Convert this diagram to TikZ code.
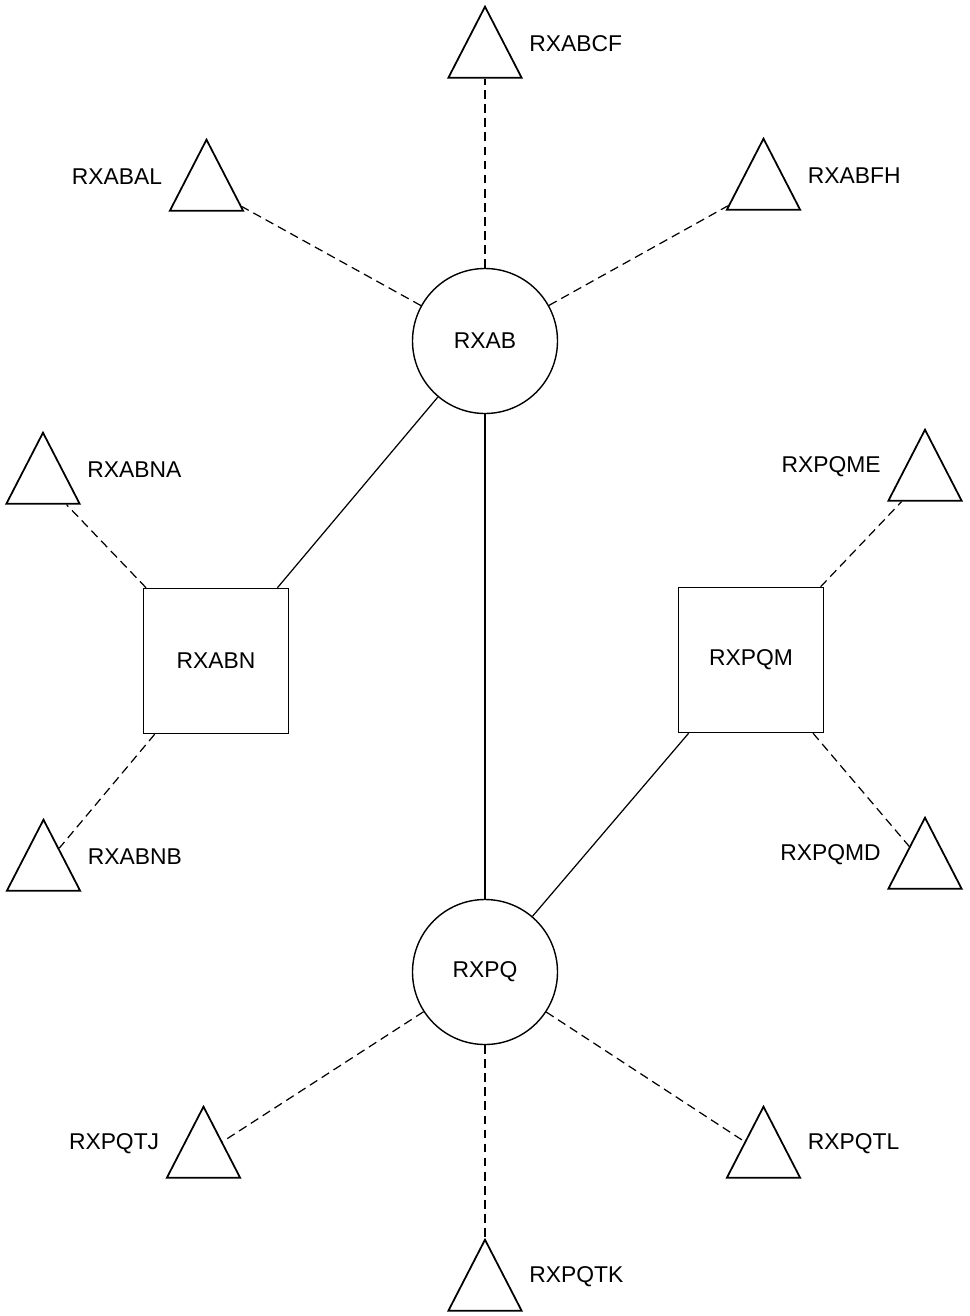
\documentclass[tikz,border=0pt]{standalone}
\usepackage{fontspec}
\setmainfont{Liberation Sans}
\usetikzlibrary{positioning,shapes.geometric}

\begin{document}
\begin{tikzpicture}[on grid,font=\fontsize{13}{15}\selectfont,
    hub/.style={draw,circle,minimum size=2.9cm,line width=0.8pt},
    sub/.style={draw,rectangle,minimum size=2.9cm,line width=0.8pt},
    term/.style={draw,regular polygon,regular polygon sides=3,inner sep=0pt,
      minimum size=1.69cm,yscale=1.12,line width=1pt},
    tag/.style={inner sep=0pt},
    trunk/.style={line width=0.7pt},
    spur/.style={line width=0.7pt,dash pattern=on 5pt off 3pt}]
  \useasboundingbox (0,0) rectangle (19.4,-26.32);
  % hubs and sub-hubs
  \node[hub] (rxab) at (9.7,-6.82) {RXAB};
  \node[hub] (rxpq) [below=12.62cm of rxab] {RXPQ};
  \node[sub] (rxabn) [below left=6.4cm and 5.38cm of rxab] {RXABN};
  \node[sub] (rxpqm) [below right=6.38cm and 5.32cm of rxab] {RXPQM};
  % terminals
  \node[term] (cf) [above=5.74cm of rxab] {};
  \node[term] (al) [above left=3.08cm and 5.57cm of rxab] {};
  \node[term] (fh) [above right=3.1cm and 5.57cm of rxab] {};
  \node[term] (na) [above left=3.62cm and 3.46cm of rxabn] {};
  \node[term] (nb) [below left=4.12cm and 3.45cm of rxabn] {};
  \node[term] (me) [above right=3.66cm and 3.48cm of rxpqm] {};
  \node[term] (md) [below right=4.1cm and 3.48cm of rxpqm] {};
  \node[term] (tj) [below left=3.64cm and 5.63cm of rxpq] {};
  \node[term] (tl) [below right=3.64cm and 5.57cm of rxpq] {};
  \node[term] (tk) [below=6.3cm of rxpq] {};
  % names
  \node[tag,above right=0.2cm and 0.88cm of cf,anchor=west] (cf-t) {RXABCF};
  \node[tag,above left=0.2cm and 0.88cm of al,anchor=east] (al-t) {RXABAL};
  \node[tag,above right=0.2cm and 0.88cm of fh,anchor=west] (fh-t) {RXABFH};
  \node[tag,above right=0.2cm and 0.88cm of na,anchor=west] (na-t) {RXABNA};
  \node[tag,above right=0.2cm and 0.88cm of nb,anchor=west] (nb-t) {RXABNB};
  \node[tag,above left=0.2cm and 0.88cm of me,anchor=east] (me-t) {RXPQME};
  \node[tag,above left=0.2cm and 0.88cm of md,anchor=east] (md-t) {RXPQMD};
  \node[tag,above left=0.2cm and 0.88cm of tj,anchor=east] (tj-t) {RXPQTJ};
  \node[tag,above right=0.2cm and 0.88cm of tl,anchor=west] (tl-t) {RXPQTL};
  \node[tag,above right=0.2cm and 0.88cm of tk,anchor=west] (tk-t) {RXPQTK};
  % links
  \path[trunk]
    (rxab) edge (rxpq)
    (rxab) edge (rxabn)
    (rxpqm) edge (rxpq);
  \path[spur]
    (rxab) edge (cf)
    (rxab) edge (al)
    (rxab) edge (fh)
    (rxabn) edge (na)
    (rxabn) edge (nb)
    (rxpqm) edge (me)
    (rxpqm) edge (md)
    (rxpq) edge (tj)
    (rxpq) edge (tl)
    (rxpq) edge (tk);
\end{tikzpicture}
\end{document}
